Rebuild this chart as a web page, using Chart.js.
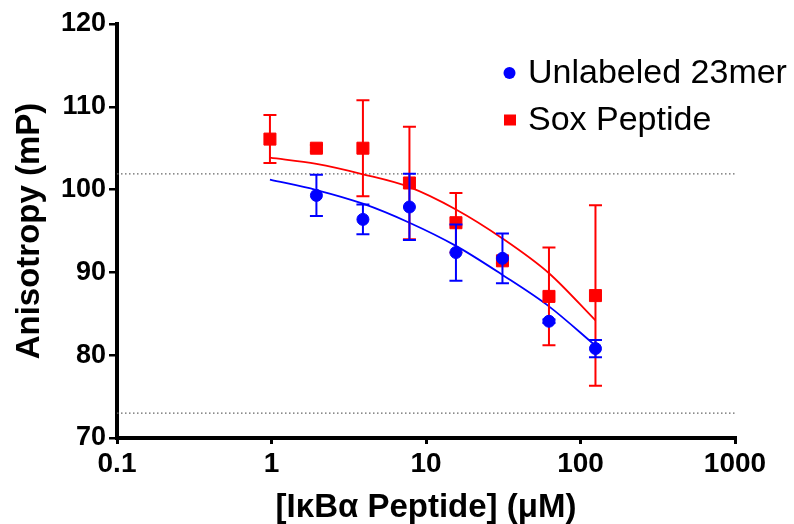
<!DOCTYPE html>
<html>
<head>
<meta charset="utf-8">
<script src="https://cdn.jsdelivr.net/npm/chart.js@4.4.1/dist/chart.umd.min.js"></script>
<style>
  html, body { margin: 0; padding: 0; background: #fff; }
  #wrap { width: 794px; height: 524px; }
</style>
</head>
<body>
<div id="wrap"><canvas id="fpChart"></canvas></div>
<script>
// peptide concentrations (uM), 2-fold dilution series
const conc = [0.977, 1.953, 3.906, 7.8125, 15.625, 31.25, 62.5, 125];

// measured anisotropy, mean and +/- error
const unlabeledMean = [null, 99.3, 96.4, 97.9, 92.4, 91.7, 84.1, 80.8];
const unlabeledErr  = [null, 2.5, 1.8, 4.0, 3.4, 3.0, 0.2, 1.05];
const soxMean = [106.1, 105.0, 105.0, 100.8, 96.0, 91.4, 87.1, 87.2];
const soxErr  = [2.9, 0.4, 5.8, 6.8, 3.6, 0.3, 5.9, 10.9];

// fitted curves, sampled at the same concentrations
const unlabeledFit = [101.2, 99.95, 98.3, 96.0, 93.2, 89.7, 85.9, 81.15];
const soxFit = [103.85, 103.1, 101.85, 100.3, 97.6, 94.1, 89.9, 84.2];

// dotted reference levels
const refLevels = [101.9, 73.0];
const refRange = [0.1, 1000];

const xTickValues = [0.1, 1, 10, 100, 1000];
const xTickLabels = ['0.1', '1', '10', '100', '1000'];
const yTickValues = [70, 80, 90, 100, 110, 120];

const BLUE = '#0000ff';
const RED = '#ff0000';
const FONT = "'Liberation Sans', Arial, sans-serif";

const pts = (ys) => conc.map((c, i) => ({ x: c, y: ys[i] }));

const errorBars = {
  id: 'errorBars',
  beforeDatasetDraw(chart, args) {
    const ds = chart.data.datasets[args.index];
    if (!ds.errors) return;
    const xs = chart.scales.x, ys = chart.scales.y;
    const ctx = chart.ctx;
    ctx.save();
    ctx.strokeStyle = ds.borderColor;
    ctx.lineWidth = 2;
    ds.data.forEach((p, i) => {
      const e = ds.errors[i];
      if (p.y == null || e == null) return;
      const px = xs.getPixelForValue(p.x);
      const top = ys.getPixelForValue(p.y + e);
      const bot = ys.getPixelForValue(p.y - e);
      ctx.beginPath();
      ctx.moveTo(px, top); ctx.lineTo(px, bot);
      ctx.moveTo(px - 6.5, top); ctx.lineTo(px + 6.5, top);
      ctx.moveTo(px - 6.5, bot); ctx.lineTo(px + 6.5, bot);
      ctx.stroke();
    });
    ctx.restore();
  }
};

// legend drawn inside the plot area, top right
const insideLegend = {
  id: 'insideLegend',
  afterDraw(chart) {
    const ctx = chart.ctx;
    const items = chart.data.datasets.filter(d => d.inLegend);
    ctx.save();
    ctx.font = '34px ' + FONT;
    ctx.textBaseline = 'middle';
    items.forEach((d, i) => {
      const cy = 73 + i * 47;
      ctx.fillStyle = d.backgroundColor;
      if (d.pointStyle === 'rect') {
        ctx.fillRect(504, cy - 5.5, 12, 11);
      } else {
        ctx.beginPath();
        ctx.arc(509.5, cy, 6, 0, Math.PI * 2);
        ctx.fill();
      }
      ctx.fillStyle = '#000';
      ctx.fillText(d.label, 528, cy + 1);
    });
    ctx.restore();
  }
};

new Chart(document.getElementById('fpChart'), {
  type: 'scatter',
  data: {
    datasets: [
      {
        label: 'Unlabeled 23mer', inLegend: true,
        data: pts(unlabeledMean), errors: unlabeledErr,
        borderColor: BLUE, backgroundColor: BLUE,
        pointStyle: 'circle', pointRadius: 6, borderWidth: 1, showLine: false
      },
      {
        label: 'Sox Peptide', inLegend: true,
        data: pts(soxMean), errors: soxErr,
        borderColor: RED, backgroundColor: RED,
        pointStyle: 'rect', pointRadius: 8.5, borderWidth: 1, showLine: false
      },
      {
        label: 'Unlabeled fit', data: pts(unlabeledFit),
        borderColor: BLUE, borderWidth: 1.8, pointRadius: 0, showLine: true,
        cubicInterpolationMode: 'monotone'
      },
      {
        label: 'Sox fit', data: pts(soxFit),
        borderColor: RED, borderWidth: 1.8, pointRadius: 0, showLine: true,
        cubicInterpolationMode: 'monotone'
      },
      ...refLevels.map(v => ({
        label: 'ref ' + v,
        data: refRange.map(x => ({ x, y: v })),
        borderColor: '#666', borderWidth: 1.3, borderDash: [1.5, 2.5],
        pointRadius: 0, showLine: true
      }))
    ]
  },
  options: {
    responsive: true,
    maintainAspectRatio: false,
    animation: false,
    layout: { padding: { top: 24, right: 59, left: 0, bottom: 0 } },
    plugins: { legend: { display: false }, tooltip: { enabled: false } },
    scales: {
      x: {
        type: 'logarithmic', min: 0.1, max: 1000,
        afterBuildTicks: (s) => { s.ticks = xTickValues.map(v => ({ value: v })); },
        afterFit: (s) => { s.height = 86; },
        ticks: {
          autoSkip: false, maxRotation: 0, padding: 3, color: '#000',
          font: { family: FONT, size: 28, weight: 'bold' },
          callback: (v, i) => xTickLabels[i]
        },
        grid: { drawOnChartArea: false, drawTicks: true, tickLength: 6, color: '#000', lineWidth: 3 },
        border: { display: true, color: '#000', width: 4 },
        title: {
          display: true, text: '[I\u03BAB\u03B1 Peptide] (\u03BCM)', color: '#000',
          font: { family: FONT, size: 33, weight: 'bold' }, padding: { top: 0, bottom: -4 }
        }
      },
      y: {
        min: 70, max: 120,
        afterBuildTicks: (s) => { s.ticks = yTickValues.map(v => ({ value: v })); },
        afterFit: (s) => { s.width = 117; },
        ticks: {
          padding: 3, color: '#000',
          font: { family: FONT, size: 27, weight: 'bold' }
        },
        grid: { drawOnChartArea: false, drawTicks: true, tickLength: 8, color: '#000', lineWidth: 2.5 },
        border: { display: true, color: '#000', width: 4 },
        title: {
          display: true, text: 'Anisotropy (mP)', color: '#000',
          font: { family: FONT, size: 33, weight: 'bold' }, padding: { top: 10, bottom: 0 }
        }
      }
    }
  },
  plugins: [errorBars, insideLegend]
});
</script>
</body>
</html>
